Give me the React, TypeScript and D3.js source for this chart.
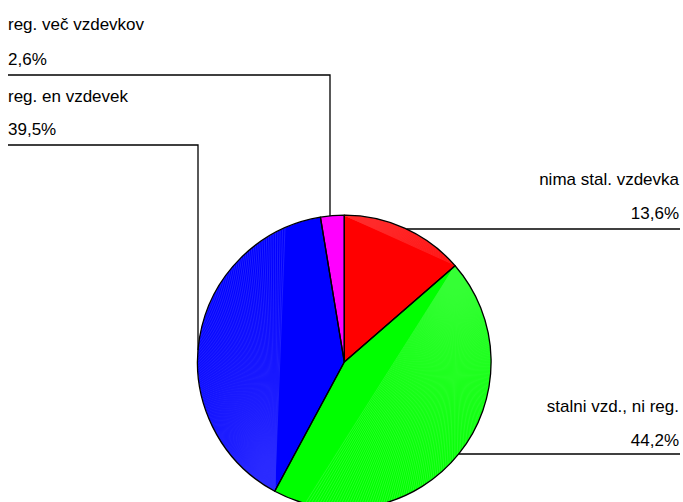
import React from "react";
import * as d3 from "d3";

const categories = ["nima stal. vzdevka", "stalni vzd., ni reg.", "reg. en vzdevek", "reg. več vzdevkov"];
const values = [13.6, 44.2, 39.5, 2.6];
const valueLabels = ["13,6%", "44,2%", "39,5%", "2,6%"];
const colors = ["#ff0000", "#00ff00", "#0000ff", "#ff00ff"];
const streakColors = ["#ff9090", "#b0ffb0", "#9090ff", "#ff90ff"];

const W = 683;
const H = 502;
const cx = 344.3;
const cy = 362;
const R = 146.8;
const FONT = "'Liberation Sans', Arial, Helvetica, sans-serif";
const FS = 17;

export default function App() {
  const pie = d3.pie<number>().sort(null).value((d) => d)(values);
  const arc = d3.arc<d3.PieArcDatum<number>>().innerRadius(0).outerRadius(R);

  const edgeXAtY = (y: number, side: number) => cx + side * Math.sqrt(Math.max(0, R * R - (y - cy) * (y - cy)));
  const edgeYAtX = (x: number, side: number) => cy + side * Math.sqrt(Math.max(0, R * R - (x - cx) * (x - cx)));
  const pt = (a: number) => [R * Math.sin(a), -R * Math.cos(a)];

  const layout = [
    { side: "right", b1: 185, b2: 219, lineY: 229, vx: 0 },
    { side: "right", b1: 412, b2: 446, lineY: 454, vx: 0 },
    { side: "left", b1: 102, b2: 135, lineY: 145, vx: 198 },
    { side: "left", b1: 30, b2: 65, lineY: 75, vx: 330 },
  ];

  // triangle-fan streak texture from each slice's starting arc point
  const fanShare = [1, 0.92, 0.9, 0];
  const streaks: { x1: number; y1: number; x2: number; y2: number; c: string }[] = [];
  pie.forEach((p, i) => {
    if (fanShare[i] <= 0) return;
    const [sx, sy] = pt(p.startAngle);
    const span = p.endAngle - p.startAngle;
    const step = 0.018;
    const from = p.startAngle + step;
    const to = p.startAngle + span * fanShare[i];
    d3.range(from, to, step).forEach((a) => {
      const [ex, ey] = pt(a);
      streaks.push({ x1: sx, y1: sy, x2: ex, y2: ey, c: streakColors[i] });
    });
  });

  return (
    <svg width={W} height={H} style={{ position: "absolute", left: 0, top: 0, background: "#fff" }}>
      <g transform={`translate(${cx},${cy})`}>
        {pie.map((p, i) => (
          <path key={i} d={arc(p) || ""} fill={colors[i]} stroke="none" />
        ))}
        <g opacity={0.3}>
          {streaks.map((s, k) => (
            <line key={k} x1={s.x1} y1={s.y1} x2={s.x2} y2={s.y2} stroke={s.c} strokeWidth={0.7} />
          ))}
        </g>
        {pie.map((p, i) => (
          <path key={"o" + i} d={arc(p) || ""} fill="none" stroke="#000" strokeWidth={1.3} strokeLinejoin="round" />
        ))}
      </g>
      {layout.map((l, i) => {
        if (l.side === "right") {
          const x0 = edgeXAtY(l.lineY, 1);
          return (
            <g key={i} fontFamily={FONT} fontSize={FS} fill="#000">
              <line x1={x0} y1={l.lineY} x2={680} y2={l.lineY} stroke="#000" strokeWidth={1.3} />
              <text x={679} y={l.b1} textAnchor="end">{categories[i]}</text>
              <text x={679} y={l.b2} textAnchor="end">{valueLabels[i]}</text>
            </g>
          );
        }
        const yEnd = edgeYAtX(l.vx, -1);
        return (
          <g key={i} fontFamily={FONT} fontSize={FS} fill="#000">
            <polyline points={`8,${l.lineY} ${l.vx},${l.lineY} ${l.vx},${yEnd}`} fill="none" stroke="#000" strokeWidth={1.3} />
            <text x={8} y={l.b1}>{categories[i]}</text>
            <text x={8} y={l.b2}>{valueLabels[i]}</text>
          </g>
        );
      })}
    </svg>
  );
}
